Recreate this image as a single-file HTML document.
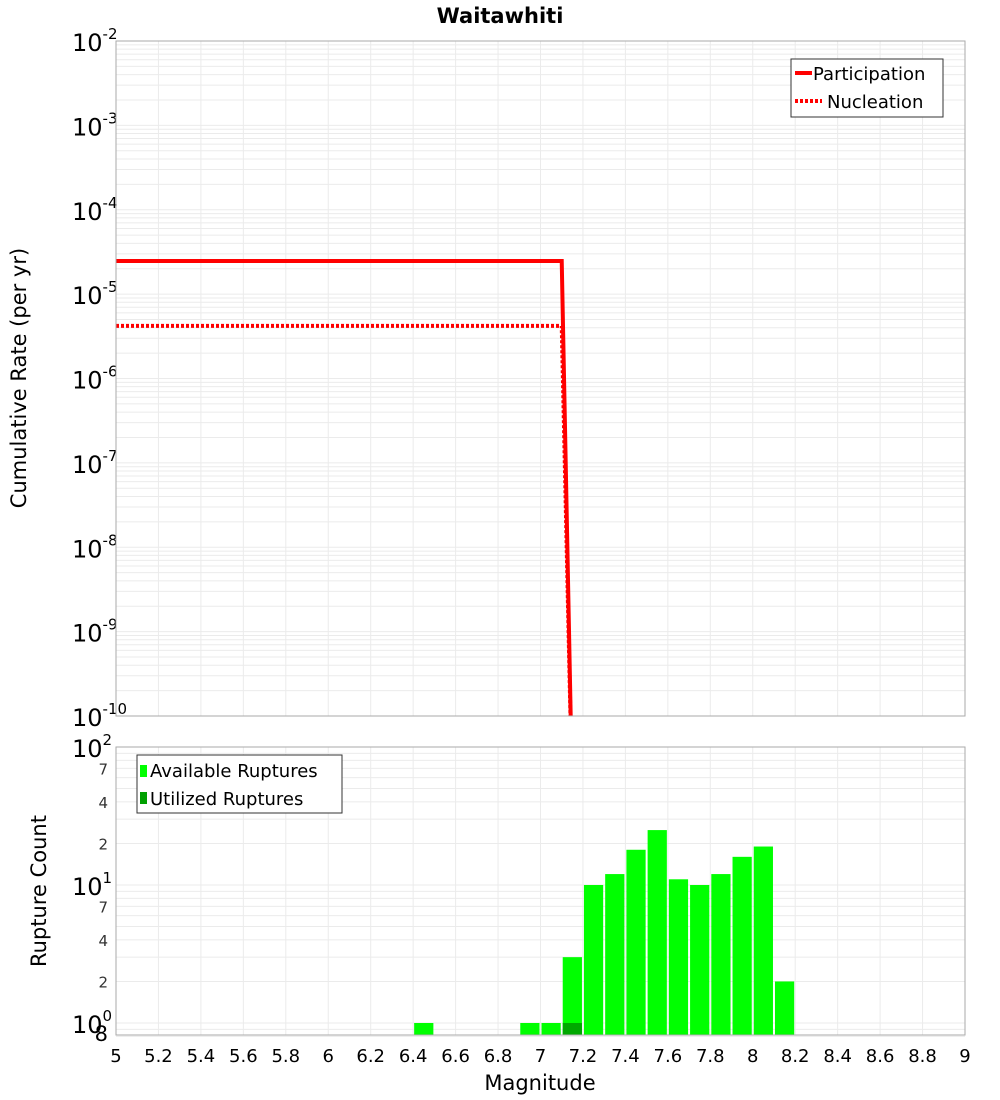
<!DOCTYPE html>
<html><head><meta charset="utf-8"><style>
body{margin:0;background:#fff;}
svg{display:block;font-family:"DejaVu Sans","Liberation Sans",sans-serif;}
</style></head><body>
<svg id="c" width="1000" height="1100" xmlns="http://www.w3.org/2000/svg">
<text x="500" y="23" text-anchor="middle" font-size="21" font-weight="bold">Waitawhiti</text>
<g id="topPanel"></g>
<g id="botPanel"></g>
<text transform="translate(26,378) rotate(-90)" text-anchor="middle" font-size="21">Cumulative Rate (per yr)</text>
<text transform="translate(46,891) rotate(-90)" text-anchor="middle" font-size="21">Rupture Count</text>
<text x="540" y="1090" text-anchor="middle" font-size="21">Magnitude</text>
<g id="legends"></g>
</svg>
<script>
const partMags=[5.0,7.1,7.15];
const partRates=[2.47e-5,2.47e-5,1e-11];
const nuclMags=[5.0,7.1,7.15];
const nuclRates=[4.2e-6,4.2e-6,1e-11];
const binCenters=[6.45,6.95,7.05,7.15,7.25,7.35,7.45,7.55,7.65,7.75,7.85,7.95,8.05,8.15];
const availCounts=[1,1,1,3,10,12,18,25,11,10,12,16,19,2];
const utilCenters=[7.15];
const utilCounts=[1];
const xTicks=[5,5.2,5.4,5.6,5.8,6,6.2,6.4,6.6,6.8,7,7.2,7.4,7.6,7.8,8,8.2,8.4,8.6,8.8,9];
const topExps=[-2,-3,-4,-5,-6,-7,-8,-9,-10];

const NS="http://www.w3.org/2000/svg";
const L=116,R=965;
const X=m=>L+(m-5)/4*(R-L);
const T0=41,T1=716;
const YT=v=>T0+(-2-Math.log10(v))/8*(T1-T0);
const B0=747,B1=1035;
const YB=v=>B0+(2-Math.log10(v))*138;
function mk(p,tag,a){const e=document.createElementNS(NS,tag);for(const k in a)e.setAttribute(k,a[k]);p.appendChild(e);return e;}
const topG=document.getElementById('topPanel'),botG=document.getElementById('botPanel');
// top grid
for(let e=-10;e<-2;e++)for(let k=1;k<10;k++){const y=YT(k*Math.pow(10,e));const g=mk(topG,'line',{x1:L,x2:R,y1:y,y2:y,stroke:'#ebebeb','stroke-width':1});

}
xTicks.forEach(m=>{const g=mk(topG,'line',{x1:X(m),x2:X(m),y1:T0,y2:T1,stroke:'#ebebeb','stroke-width':1});

});
topExps.forEach(e=>{const y=YT(Math.pow(10,e));const t=mk(topG,'text',{x:72,y:y+10,'font-size':24});t.innerHTML='10<tspan dy="-12" font-size="15">'+e+'</tspan>';

});
const clipT=mk(topG,'clipPath',{id:'ct'});mk(clipT,'rect',{x:L,y:T0,width:R-L,height:T1-T0});
const pp=mk(topG,'polyline',{points:partMags.map((m,i)=>X(m)+','+YT(partRates[i])).join(' '),fill:'none',stroke:'#f00','stroke-width':4,'clip-path':'url(#ct)'});


const np=mk(topG,'polyline',{points:nuclMags.map((m,i)=>X(m)+','+YT(nuclRates[i])).join(' '),fill:'none',stroke:'#f00','stroke-width':4,'stroke-dasharray':'3,2','clip-path':'url(#ct)'});


mk(topG,'rect',{x:L,y:T0,width:R-L,height:T1-T0,fill:'none',stroke:'#aaa','stroke-width':1});
// bottom
for(let e=-1;e<2;e++)for(let k=1;k<10;k++){const v=k*Math.pow(10,e);if(v<0.8)continue;const y=YB(v);const g=mk(botG,'line',{x1:L,x2:R,y1:y,y2:y,stroke:'#ebebeb','stroke-width':1});

}
xTicks.forEach(m=>{const g=mk(botG,'line',{x1:X(m),x2:X(m),y1:B0,y2:B1,stroke:'#ebebeb','stroke-width':1});


const t=mk(botG,'text',{x:X(m),y:1062,'text-anchor':'middle','font-size':18});t.textContent=String(m);

});
[2,1,0].forEach(e=>{const y=YB(Math.pow(10,e));const t=mk(botG,'text',{x:72,y:y+10,'font-size':24});t.innerHTML='10<tspan dy="-12" font-size="15">'+e+'</tspan>';

});
[[7,10],[4,10],[2,10],[7,1],[4,1],[2,1]].forEach(([k,s])=>{const t=mk(botG,'text',{x:108,y:YB(k*s)+6,'text-anchor':'end','font-size':15,fill:'#333'});t.textContent=k;

});
const t8=mk(botG,'text',{x:108,y:1041,'text-anchor':'end','font-size':21});t8.textContent='8';


const bw=X(5.1)-X(5)-2;
binCenters.forEach((m,i)=>{const y=YB(availCounts[i]);const r=mk(botG,'rect',{x:X(m)-bw/2,y:y,width:bw,height:B1-y,fill:'#00ff00'});

});
utilCenters.forEach((m,i)=>{const y=YB(utilCounts[i]);const r=mk(botG,'rect',{x:X(m)-bw/2,y:y,width:bw,height:B1-y,fill:'#00a800'});

});
mk(botG,'rect',{x:L,y:B0,width:R-L,height:B1-B0,fill:'none',stroke:'#aaa','stroke-width':1});
</script>
<svg width="1000" height="1100" style="position:absolute;left:0;top:0;font-family:'DejaVu Sans','Liberation Sans',sans-serif">
<g>
<rect x="791" y="59" width="152" height="58" fill="#fff" stroke="#333" stroke-width="1"/>
<line x1="795" y1="73" x2="812" y2="73" stroke="#f00" stroke-width="4"/>
<text x="813" y="80" font-size="18">Participation</text>
<line x1="795" y1="101" x2="822" y2="101" stroke="#f00" stroke-width="4" stroke-dasharray="3,2"/>
<text x="827" y="108" font-size="18">Nucleation</text>
</g>
<g>
<rect x="137" y="755" width="205" height="58" fill="#fff" stroke="#333" stroke-width="1"/>
<rect x="140" y="765" width="7" height="12" fill="#00ff00"/>
<text x="150" y="777" font-size="18">Available Ruptures</text>
<rect x="140" y="792" width="7" height="12" fill="#00a000"/>
<text x="150" y="805" font-size="18">Utilized Ruptures</text>
</g>
</svg>
</body></html>
